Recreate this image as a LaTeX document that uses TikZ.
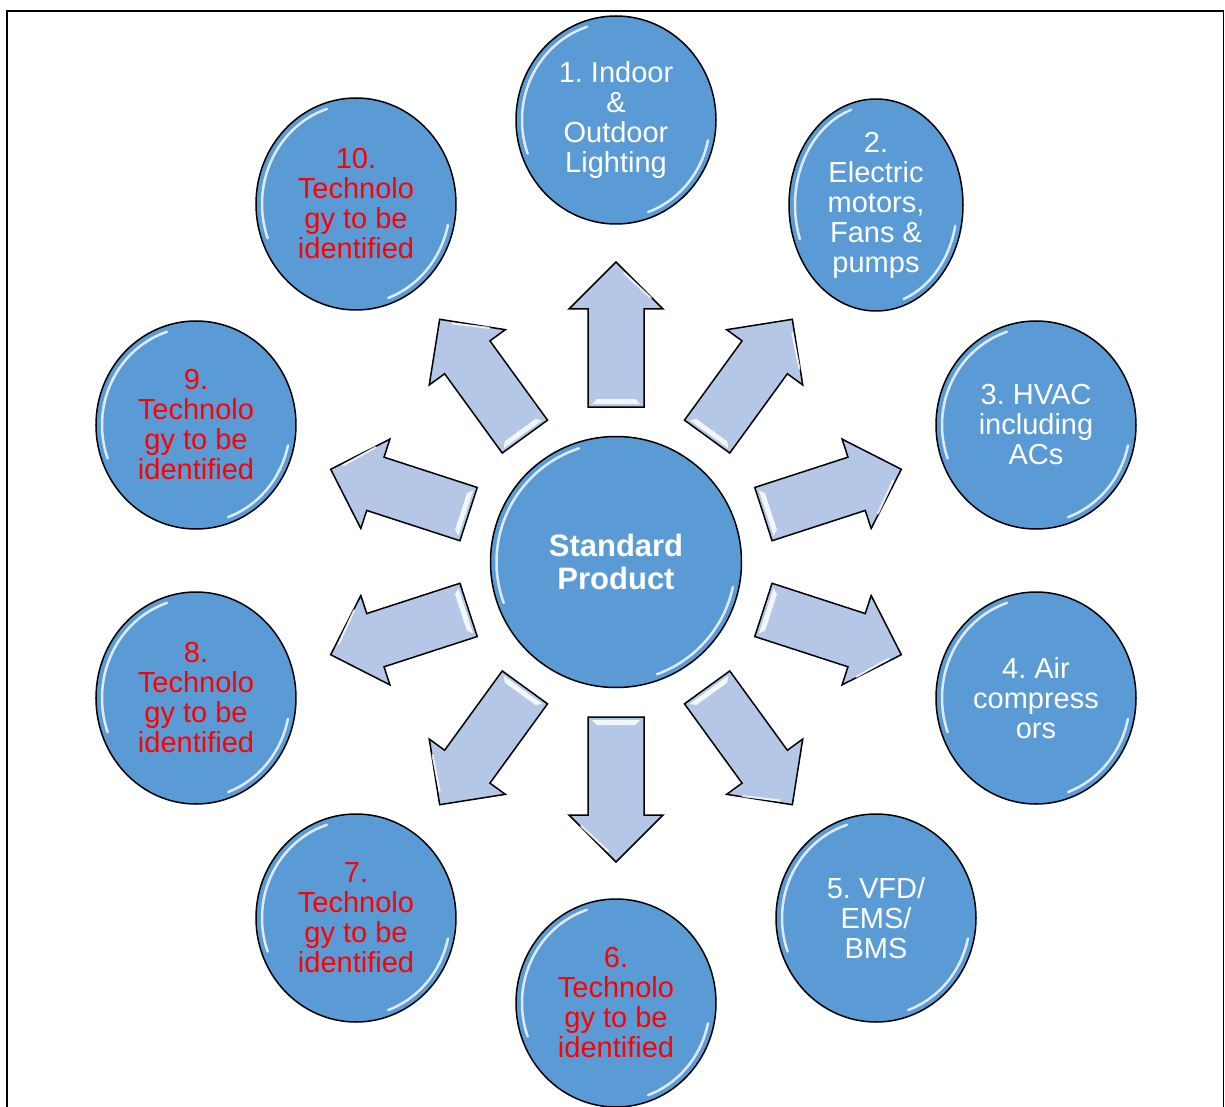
\documentclass[tikz,border=0pt]{standalone}
\usepackage{fontspec}
\setmainfont{Liberation Sans}
\usepackage{tikz}
\usetikzlibrary{shapes.geometric,calc}
\definecolor{bubbleblue}{HTML}{5B9BD5}
\definecolor{arrowblue}{HTML}{B4C7E7}
\frenchspacing

\begin{document}
\begin{tikzpicture}[x=1pt,y=1pt,
        glint/.style={draw=white,opacity=.8,line width=2.5pt,line cap=round},
        glossy/.style={path picture={
            \draw[glint] let \p1=(path picture bounding box.center), \p2=(path picture bounding box.north east),
                \n1={\x2-\x1-6pt}, \n2={\y2-\y1-6pt} in
                ([shift={(108:\n1 and \n2)}]path picture bounding box.center) arc[start angle=108,end angle=200,x radius=\n1,y radius=\n2]
                ([shift={(-12:\n1 and \n2)}]path picture bounding box.center) arc[start angle=-12,end angle=-70,x radius=\n1,y radius=\n2];
        }},
        bubble/.style={ellipse, draw=black, line width=1.5pt, fill=bubbleblue, glossy,
            minimum width=200pt, minimum height=208pt, inner sep=0pt, align=center,
            text=white, font=\frenchspacing\fontsize{29}{30}\selectfont},
        todo/.style={bubble, text=red},
        hub/.style={bubble, circle, minimum size=251pt, font=\bfseries\fontsize{31}{33}\selectfont},
        blockarrow/.style={draw=black, line width=1.5pt, fill=arrowblue, line join=miter},
    ]
    \useasboundingbox (-616,-544) rectangle (609,562);
    % frame
    \draw[line width=1.5pt] (-609,-560) -- (-609,551) -- (607.5,551) -- (607.5,-560);
    % arrows
    \foreach \a in {90,54,18,-18,-54,-90,-126,-162,162,126}{
        \begin{scope}[rotate=\a]
            \draw[blockarrow] (155,28) -- (253,28) -- (253,47) -- (300,0) -- (253,-47) -- (253,-28) -- (155,-28) -- cycle;
            \fill[white,opacity=.85] (158,24) -- (163,19) -- (163,-19) -- (158,-24) -- cycle;
            \draw[glint,line width=2pt] (289,-8) -- (264,-35);
        \end{scope}
    }
    % hub
    \node[hub] (sp) at (0,0) {Standard\\ Product};
    % known technologies
    \node[bubble] (n1) at (0,442) {1. Indoor\\ \&\\ Outdoor\\ Lighting};
    \node[bubble,minimum width=174pt,minimum height=212pt] (n2) at (260,357) {2.\\ Electric\\ motors,\\ Fans \&\\ pumps};
    \node[bubble] (n3) at (420,137) {3. HVAC\\ including\\ ACs};
    \node[bubble,minimum height=212pt] (n4) at (420,-136) {4. Air\\ compress\\ ors};
    \node[bubble] (n5) at (260,-356) {5. VFD/\\ EMS/\\ BMS};
    % to be identified
    \node[todo] (n6) at (0,-441) {6.\\ Technolo\\ gy to be\\ identified};
    \node[todo] (n7) at (-260,-356) {7.\\ Technolo\\ gy to be\\ identified};
    \node[todo,minimum height=212pt] (n8) at (-420,-136) {8.\\ Technolo\\ gy to be\\ identified};
    \node[todo] (n9) at (-420,137) {9.\\ Technolo\\ gy to be\\ identified};
    \node[todo,minimum height=212pt] (n10) at (-260,358) {10.\\ Technolo\\ gy to be\\ identified};
\end{tikzpicture}
\end{document}
